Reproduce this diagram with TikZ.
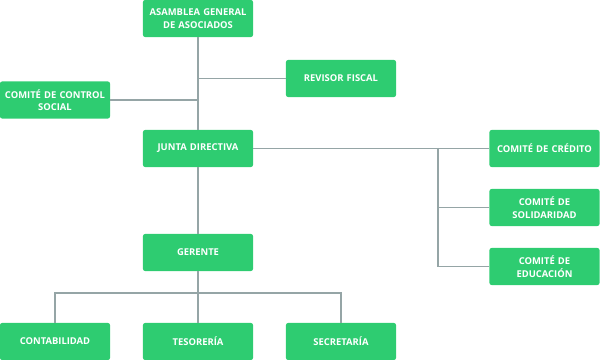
\documentclass[tikz,border=0pt]{standalone}
\usepackage{fontspec}
\setmainfont{Open Sans}
\usepackage{tikz}

\definecolor{verde}{HTML}{2ECC71}
\definecolor{gris}{HTML}{95A5A6}

\begin{document}
\begin{tikzpicture}[x=0.025cm,y=-0.025cm,
    cargo/.style={fill=verde, rounded corners=1.5pt, minimum width=2.75cm,
      minimum height=0.925cm, inner sep=0pt, text width=2.6cm, align=center,
      text=white, font=\bfseries\fontsize{6.7}{9}\selectfont},
    linea/.style={gris, line width=1.1pt}]
      \useasboundingbox (0,0) rectangle (600,360);
      \coordinate (rama) at (438,148);
      \coordinate (reparto) at (198,293);
      % cargos
      \node[cargo] (asamblea) at (198,18.5) {ASAMBLEA GENERAL\\DE ASOCIADOS};
      \node[cargo] (control) at (55,100) {COMITÉ DE CONTROL\\SOCIAL};
      \node[cargo] (revisor) at (341,78.5) {REVISOR FISCAL};
      \node[cargo] (junta) at (198,148.5) {JUNTA DIRECTIVA};
      \node[cargo] (credito) at (544.5,148.5) {COMITÉ DE CRÉDITO};
      \node[cargo] (solidaridad) at (544.5,207.5) {COMITÉ DE\\SOLIDARIDAD};
      \node[cargo] (educacion) at (544.5,266.5) {COMITÉ DE\\EDUCACIÓN};
      \node[cargo] (gerente) at (198,252.5) {GERENTE};
      \node[cargo] (contabilidad) at (55,341.5) {CONTABILIDAD};
      \node[cargo] (tesoreria) at (198,341.5) {TESORERÍA};
      \node[cargo] (secretaria) at (341,341.5) {SECRETARÍA};
      % lineas
      \draw[linea] (asamblea) -- (junta);
      \draw[linea] (control.east) -- (control.east -| junta);
      \draw[linea] (revisor.west) -- (revisor.west -| junta);
      \draw[linea] (junta.east) -- (credito.west);
      \draw[linea] (rama) |- (educacion.west);
      \draw[linea] (rama |- solidaridad) -- (solidaridad.west);
      \draw[linea] (junta) -- (gerente);
      \draw[linea] (gerente.south) -- (tesoreria.north);
      \draw[linea] (contabilidad.north) |- (reparto) -| (secretaria.north);
  \end{tikzpicture}
\end{document}
